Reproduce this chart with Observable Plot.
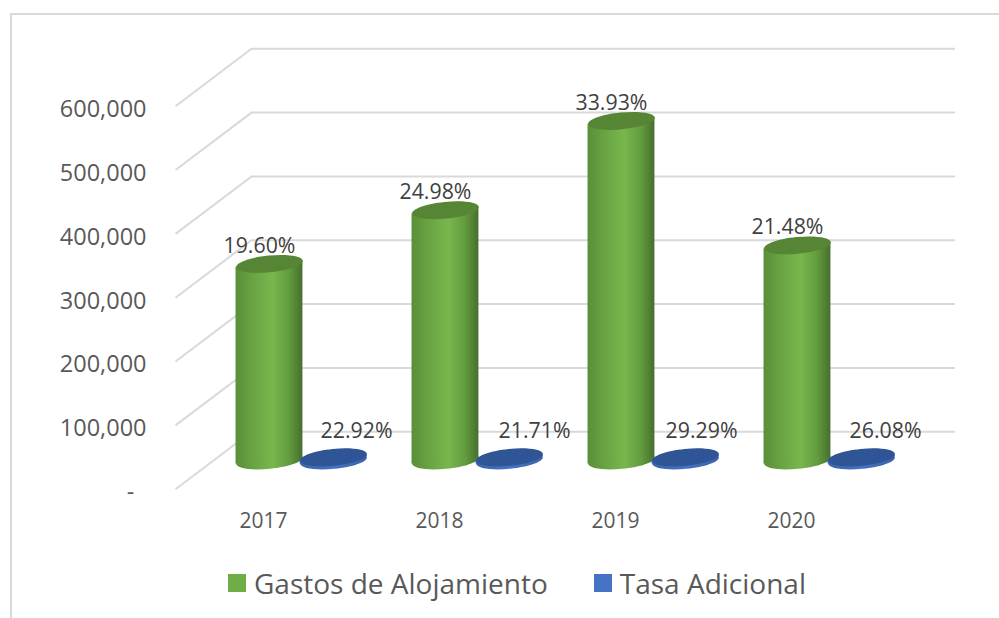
<!DOCTYPE html>
<html><head><meta charset="utf-8">
<script src="https://cdn.jsdelivr.net/npm/d3@7"></script>
<script src="https://cdn.jsdelivr.net/npm/@observablehq/plot@0.6"></script>
<style>
html,body{margin:0;padding:0;background:#fff;overflow:hidden}
#page{position:relative;width:999px;height:618px;font-family:"Open Sans",sans-serif}
#edge{position:absolute;left:10px;top:13px;right:0;bottom:0;border-left:2px solid #d9d9d9;border-top:2px solid #d9d9d9}
#chart{position:absolute;left:0;top:0}
#legend{position:absolute;left:228px;top:565px;height:36px;display:flex;align-items:center;font-size:28px;color:#595959;white-space:nowrap}
#legend i{display:inline-block;width:18px;height:18px;margin-right:8px}
#legend span{margin-right:46px}
</style></head><body>
<div id="page"><div id="edge"></div><div id="chart"></div>
<div id="legend"><i style="background:#70ad47"></i><span>Gastos de Alojamiento</span><i style="background:#4472c4"></i><span>Tasa Adicional</span></div></div>
<script>
const years = [2017, 2018, 2019, 2020];
const gastos = [308000, 392000, 532000, 337000];
const tasa = [5000, 5000, 5000, 5000];
const gastosLabels = ["19.60%", "24.98%", "33.93%", "21.48%"];
const tasaLabels = ["22.92%", "21.71%", "29.29%", "26.08%"];
const gridValues = [0, 100000, 200000, 300000, 400000, 500000, 600000];

// 3D look, in data units
const depthX = 0.216, depthY = 45000, tiltY = 5500;
const halfWidth = 0.19, greenShift = -0.182, blueShift = 0.182;
const first = years[0] - 0.5, last = years[3] + 0.5;
const tasaLabelDx = [23, 25, 16, 24];

const ellipse = {
  draw(c, size) {
    const rx = Math.sqrt(size / Math.PI), ry = rx * 0.25, t = -0.1, k = 0.5523;
    const P = (a, b) => [a * rx * Math.cos(t) - b * ry * Math.sin(t), a * rx * Math.sin(t) + b * ry * Math.cos(t)];
    c.moveTo(...P(1, 0));
    c.bezierCurveTo(...P(1, k), ...P(k, 1), ...P(0, 1));
    c.bezierCurveTo(...P(-k, 1), ...P(-1, k), ...P(-1, 0));
    c.bezierCurveTo(...P(-1, -k), ...P(-k, -1), ...P(0, -1));
    c.bezierCurveTo(...P(k, -1), ...P(1, -k), ...P(1, 0));
    c.closePath();
  }
};

const body = (vals, shift) => years.flatMap((yr, i) => [
  {yr, x: yr + shift - halfWidth, y1: -tiltY, y2: vals[i] - tiltY},
  {yr, x: yr + shift + halfWidth, y1: tiltY, y2: vals[i] + tiltY}
]);
const pts = (vals, shift, labels) => years.map((yr, i) => ({yr, x: yr + shift, v: vals[i], label: labels[i], i}));
const green = pts(gastos, greenShift, gastosLabels);
const blue = pts(tasa, blueShift, tasaLabels);

const defs = () => {
  const d = document.createElementNS("http://www.w3.org/2000/svg", "defs");
  d.innerHTML = `
  <linearGradient id="gb"><stop offset="0" stop-color="#5a8f38"/><stop offset=".25" stop-color="#68a342"/><stop offset=".55" stop-color="#78b74d"/><stop offset=".8" stop-color="#639b3e"/><stop offset="1" stop-color="#466f2d"/></linearGradient>
  <linearGradient id="bb"><stop offset="0" stop-color="#3a64ac"/><stop offset=".5" stop-color="#4472c4"/><stop offset="1" stop-color="#3a64ac"/></linearGradient>`;
  return d;
};

const chart = Plot.plot({
  width: 999, height: 560,
  marginLeft: 213, marginRight: 82, marginTop: 77, marginBottom: 100,
  x: {domain: [first, last]},
  y: {domain: [0, 600000]},
  style: {fontFamily: '"Open Sans",sans-serif', background: "transparent", overflow: "visible"},
  marks: [
    defs,
    Plot.link(gridValues, {x1: first - depthX, x2: first + depthX, y1: v => v - depthY, y2: v => v + depthY, stroke: "#d9d9d9", strokeWidth: 2}),
    Plot.ruleY(gridValues, {x1: first + depthX, x2: last + depthX, y: v => v + depthY, stroke: "#d9d9d9", strokeWidth: 2}),
    Plot.axisY({ticks: gridValues, tickSize: 0, tickPadding: 67, dy: 32, fontSize: 23.5, fill: "#595959", label: null,
      tickFormat: v => v === 0 ? "-\u00a0\u00a0" : d3.format(",")(v)}),
    Plot.axisX({ticks: years, tickSize: 0, tickPadding: 53, dx: -38, fontSize: 21, fill: "#595959", label: null, tickFormat: "d"}),
    // green cylinders
    Plot.dot(green, {x: "x", y: 0, r: 33.5, symbol: ellipse, fill: "url(#gb)"}),
    Plot.areaY(body(gastos, greenShift), {x: "x", y1: "y1", y2: "y2", z: "yr", fill: "url(#gb)"}),
    Plot.dot(green, {x: "x", y: "v", r: 33.5, symbol: ellipse, fill: "#568536"}),
    // blue discs
    Plot.dot(blue, {x: "x", y: 0, r: 33.5, symbol: ellipse, fill: "url(#bb)"}),
    Plot.areaY(body(tasa, blueShift), {x: "x", y1: "y1", y2: "y2", z: "yr", fill: "url(#bb)"}),
    Plot.dot(blue, {x: "x", y: "v", r: 33.5, symbol: ellipse, fill: "#2f5597"}),
    // labels
    Plot.text(green, {x: "x", y: "v", text: "label", dx: -10, dy: -18, fontSize: 21.3, fill: "#404040"}),
    ...blue.map(d => Plot.text([d], {x: "x", y: "v", text: "label", dx: tasaLabelDx[d.i], dy: -26, fontSize: 21.3, fill: "#404040"}))
  ]
});
document.getElementById("chart").appendChild(chart);
</script>
</body></html>
